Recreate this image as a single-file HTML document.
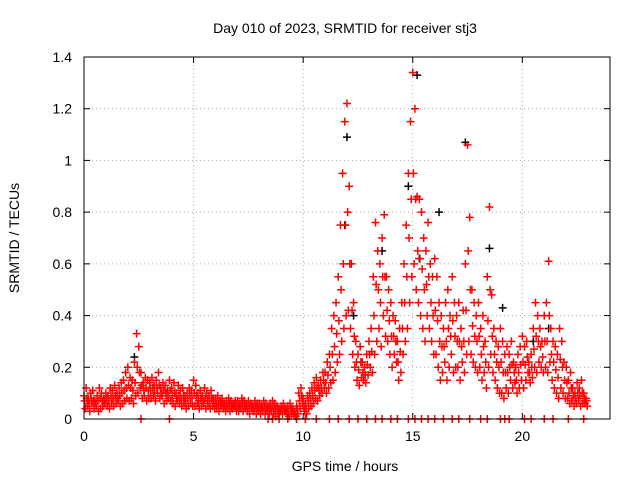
<!DOCTYPE html>
<html><head><meta charset="utf-8"><style>
html,body{margin:0;padding:0;background:#fff}
svg text{font-family:"Liberation Sans",sans-serif;font-size:14px;fill:#000}
</style></head><body>
<svg id="chart" width="640" height="480" viewBox="0 0 640 480" xmlns="http://www.w3.org/2000/svg">
<rect width="640" height="480" fill="#fff"/>
<g id="grid"></g><g id="marks"></g><g id="axes"></g>
<text x="345" y="33" text-anchor="middle">Day 010 of 2023, SRMTID for receiver stj3</text>
<text x="345" y="471" text-anchor="middle">GPS time / hours</text>
<text transform="translate(19,238) rotate(-90)" text-anchor="middle">SRMTID / TECUs</text>
</svg>
<script>
const startHour = 0;
const stepHour = 0.1;
const upperValues = [
.09,.12,.08,.10,.11,.07,.09,.12,.10,.08,
.10,.09,.12,.11,.13,.10,.12,.14,.15,.18,
.20,.16,.15,.22,.33,.28,.18,.14,.16,.15,
.14,.16,.13,.15,.18,.12,.14,.13,.11,.15,
.12,.14,.10,.13,.11,.12,.09,.10,.12,.11,
.15,.13,.10,.11,.09,.12,.10,.09,.11,.08,
.08,.09,.07,.08,.06,.07,.08,.07,.06,.07,
.07,.06,.08,.07,.06,.07,.06,.05,.07,.06,
.06,.05,.07,.06,.05,.06,.07,.06,.05,.04,
.05,.06,.04,.05,.06,.04,.03,.05,.10,.12,
.08,.06,.09,.10,.12,.14,.16,.13,.15,.18,
.18,.22,.25,.35,.40,.45,.55,.75,.95,1.15,
1.22,.90,.60,.45,.30,.25,.28,.22,.20,.25,
.30,.35,.55,.76,.65,.60,.70,.79,.55,.50,
.45,.40,.38,.30,.35,.45,.60,.75,.95,1.15,
1.34,1.20,.86,.85,.80,.70,.65,.76,.60,.55,
.62,.55,.45,.40,.35,.45,.50,.40,.55,.45,
.40,.45,.35,.42,.60,1.06,.78,.50,.45,.40,
.45,.35,.40,.30,.55,.82,.48,.35,.30,.28,
.35,.30,.25,.28,.25,.30,.22,.20,.25,.28,
.32,.28,.30,.22,.25,.35,.45,.40,.35,.30,
.40,.45,.61,.35,.30,.28,.25,.35,.30,.22,
.20,.15,.18,.12,.10,.14,.12,.15,.10,.08];
const midValues = [
.07,.08,.06,.08,.07,.06,.07,.08,.07,.07,
.08,.07,.09,.08,.09,.08,.09,.10,.11,.12,
.13,.12,.11,.14,.20,.18,.13,.11,.12,.11,
.11,.12,.10,.12,.13,.10,.11,.10,.09,.11,
.09,.10,.08,.09,.08,.09,.07,.08,.09,.08,
.10,.09,.07,.08,.07,.08,.07,.07,.08,.06,
.06,.06,.06,.06,.05,.05,.06,.05,.05,.05,
.05,.05,.06,.05,.05,.05,.05,.04,.05,.04,
.04,.04,.05,.04,.04,.04,.05,.04,.04,.03,
.04,.04,.03,.03,.04,.03,.02,.04,.07,.09,
.05,.04,.07,.08,.09,.11,.12,.11,.12,.15,
.14,.17,.20,.25,.28,.33,.38,.50,.60,.75,
.80,.60,.42,.32,.22,.19,.22,.18,.17,.21,
.25,.26,.40,.52,.50,.45,.55,.55,.42,.38,
.32,.32,.30,.22,.26,.35,.45,.55,.70,.85,
.95,.85,.65,.62,.58,.50,.52,.55,.45,.40,
.42,.38,.30,.28,.28,.30,.35,.32,.38,.32,
.30,.30,.28,.30,.42,.65,.50,.36,.32,.30,
.32,.25,.28,.22,.38,.50,.32,.25,.22,.20,
.22,.18,.18,.18,.20,.21,.18,.15,.18,.21,
.22,.21,.24,.18,.20,.27,.32,.30,.28,.24,
.30,.30,.40,.25,.22,.19,.16,.23,.20,.15,
.14,.10,.12,.09,.08,.10,.09,.10,.08,.07];
const lowerValues = [
.04,.05,.03,.06,.04,.05,.03,.04,.05,.06,
.05,.04,.06,.05,.06,.07,.05,.06,.07,.08,
.07,.08,.06,.09,.10,.12,.08,.09,.07,.08,
.08,.09,.07,.10,.08,.09,.06,.07,.08,.07,
.06,.05,.07,.06,.05,.06,.04,.05,.06,.05,
.05,.06,.04,.05,.06,.04,.05,.04,.05,.04,
.04,.03,.05,.04,.03,.04,.03,.04,.05,.03,
.03,.04,.03,.04,.03,.02,.04,.03,.02,.03,
.02,.03,.02,.03,.02,.03,.02,.01,.02,.03,
.02,.03,.02,.01,.02,.02,.01,.02,.04,.06,
.03,.02,.04,.05,.06,.08,.07,.09,.10,.12,
.10,.12,.14,.15,.18,.22,.25,.30,.35,.40,
.42,.35,.25,.20,.15,.13,.16,.15,.14,.17,
.20,.18,.25,.30,.35,.28,.40,.32,.30,.25,
.20,.25,.22,.15,.18,.25,.30,.35,.45,.55,
.60,.50,.45,.40,.35,.30,.40,.35,.30,.25,
.25,.20,.15,.18,.22,.15,.20,.25,.18,.20,
.20,.15,.22,.18,.25,.30,.25,.22,.20,.18,
.20,.15,.18,.12,.20,.25,.18,.15,.12,.10,
.10,.08,.12,.10,.15,.12,.14,.10,.12,.15,
.12,.15,.18,.14,.16,.20,.18,.22,.20,.18,
.20,.18,.22,.15,.12,.10,.08,.12,.10,.08,
.08,.06,.07,.05,.06,.07,.05,.06,.06,.05];
const blackTimes = [2.3,11.9,12.0,13.6,14.8,15.2,15.3,16.2,17.4,18.5,19.1,20.5,21.2,12.3];
const blackValues = [.24,.75,1.09,.65,.9,1.33,.62,.8,1.07,.66,.43,.3,.35,.4];
const zeroTimes = [2.6,3.9,8.4,8.6,8.9,9.3,9.7,10.1,10.6,11.2,11.6,12.1,12.5,12.9,13.3,13.6,14.0,14.3,14.8,15.1,15.4,15.7,16.0,16.4,16.8,17.1,17.6,18.1,18.4,19.0,19.2,19.4,20.1,20.4,21.0,21.4,22.1,22.8];
const xTicks = [0,5,10,15,20];
const yTicks = [0,0.2,0.4,0.6,0.8,1,1.2,1.4];
const yTickLabels = ["0","0.2","0.4","0.6","0.8","1","1.2","1.4"];

const L=84,R=610,T=57,B=419;
const xs=h=>L+h*(R-L)/24;
const ys=v=>B-v*(B-T)/1.4;
const NS="http://www.w3.org/2000/svg";
function mk(tag,attrs,parent){const e=document.createElementNS(NS,tag);for(const k in attrs)e.setAttribute(k,attrs[k]);parent.appendChild(e);return e;}
const grid=document.getElementById('grid'),marks=document.getElementById('marks'),axes=document.getElementById('axes');
yTicks.forEach((v,i)=>{
  if(v>0&&v<1.4){const g=mk('line',{x1:L,x2:R,y1:ys(v),y2:ys(v),stroke:'#aaa','stroke-dasharray':'1,3'},grid);
  
  }
  const t=mk('text',{x:L-12,y:ys(v)+5,'text-anchor':'end'},axes);t.textContent=yTickLabels[i];
  
  
  mk('line',{x1:L,x2:L+6,y1:ys(v),y2:ys(v),stroke:'#000'},axes);
  mk('line',{x1:R,x2:R-6,y1:ys(v),y2:ys(v),stroke:'#000'},axes);
});
xTicks.forEach(h=>{
  if(h>0){const g=mk('line',{x1:xs(h),x2:xs(h),y1:T,y2:B,stroke:'#aaa','stroke-dasharray':'1,3'},grid);
  
  }
  const t=mk('text',{x:xs(h),y:B+22,'text-anchor':'middle'},axes);t.textContent=String(h);
  
  
  mk('line',{x1:xs(h),x2:xs(h),y1:B,y2:B-6,stroke:'#000'},axes);
  mk('line',{x1:xs(h),x2:xs(h),y1:T,y2:T+6,stroke:'#000'},axes);
});
const frame=mk('rect',{x:L,y:T,width:R-L,height:B-T,fill:'none',stroke:'#000'},axes);


function plus(h,v,color){
  const x=xs(h),y=ys(v);
  return mk('path',{d:`M${x-4},${y}h8M${x},${y-4}v8`,stroke:color,'stroke-width':1.5,fill:'none'},marks);
}
blackTimes.forEach((h,i)=>{const p=plus(h,blackValues[i],'#000');
  
  });
upperValues.forEach((v,i)=>{const p=plus(startHour+i*stepHour,v,'#f00');
  
  });
midValues.forEach((v,i)=>{const p=plus(startHour+i*stepHour+0.03,v,'#f00');
  
  });
lowerValues.forEach((v,i)=>{const p=plus(startHour+i*stepHour+0.06,v,'#f00');
  
  });
zeroTimes.forEach(h=>{const p=plus(h,0,'#f00');
  
  });
</script>
</body></html>
